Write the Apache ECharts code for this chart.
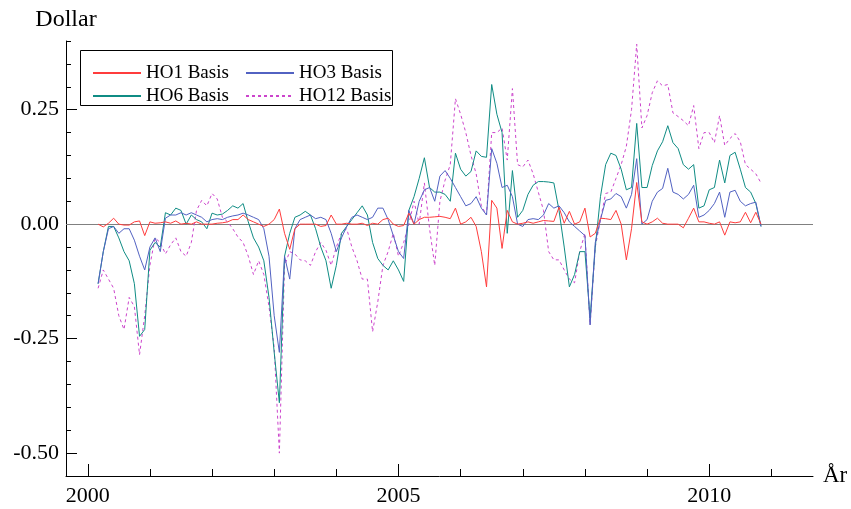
<!DOCTYPE html>
<html>
<head>
<meta charset="utf-8">
<script src="https://cdn.jsdelivr.net/npm/echarts@6/dist/echarts.min.js"></script>
<style>
  html, body { margin: 0; padding: 0; background: #fff; }
  #chart { width: 851px; height: 509px; }
</style>
</head>
<body>
<div id="chart"></div>
<script>
// monthly series, first point = March 2000
const startYear = 2000
const startMonth = 3

const ho1 = [
  0.000, -0.006, 0.002, 0.013, 0.000, -0.002, -0.002, 0.005, 0.007, -0.025,
  0.005, 0.002, 0.003, 0.005, 0.002, 0.007, 0.000, 0.002, 0.000, 0.005, 0.000, 0.000,
  0.000, 0.002, 0.003, 0.005, 0.010, 0.010, 0.020, 0.010, 0.005, 0.000, -0.005, 0.000,
  0.010, 0.033, -0.020, -0.055, -0.010, 0.000, 0.000, 0.000, 0.000, -0.005, -0.003, 0.020,
  0.000, 0.000, 0.002, 0.000, 0.000, 0.002, -0.003, 0.002, 0.000, 0.010, 0.013, 0.000,
  -0.005, -0.003, 0.024, 0.000, 0.010, 0.015, 0.015, 0.016, 0.017, 0.015, 0.012, 0.035,
  0.000, 0.005, 0.015, -0.005, -0.060, -0.137, 0.052, 0.035, -0.053, 0.030, 0.005, 0.000,
  0.002, 0.005, 0.002, 0.005, 0.008, 0.007, 0.006, 0.037, 0.002, 0.028, 0.000, 0.005,
  0.035, -0.028, -0.020, 0.013, 0.012, 0.010, 0.030, 0.000, -0.078, -0.010, 0.091, 0.005,
  0.000, 0.005, 0.013, 0.002, 0.000, 0.000, 0.000, -0.008, 0.013, 0.035, 0.005, 0.005,
  0.002, 0.000, 0.005, -0.024, 0.005, 0.003, 0.005, 0.026, 0.003, 0.026, 0.000
]

const ho3 = [
  -0.130, -0.060, -0.010, -0.005, -0.020, -0.010, -0.010, -0.035, -0.070, -0.100,
  -0.050, -0.030, -0.060, 0.013, 0.020, 0.020, 0.025, 0.020, 0.025, 0.020, 0.015, 0.005,
  0.010, 0.012, 0.010, 0.015, 0.018, 0.020, 0.024, 0.020, 0.015, 0.010, -0.010, -0.070,
  -0.200, -0.280, -0.070, -0.120, -0.010, 0.010, 0.015, 0.020, 0.012, 0.015, 0.010, -0.020,
  -0.060, -0.030, -0.005, 0.015, 0.020, 0.015, 0.010, 0.015, 0.035, 0.035, 0.010, -0.025,
  -0.060, -0.075, 0.030, 0.000, 0.050, 0.075, 0.080, 0.050, 0.105, 0.117, 0.100, 0.080,
  0.060, 0.040, 0.045, 0.060, 0.035, 0.020, 0.165, 0.133, 0.080, 0.085, 0.060, 0.000,
  -0.005, 0.010, 0.012, 0.010, 0.020, 0.045, 0.035, 0.040, 0.025, 0.005, -0.005, -0.015,
  -0.025, -0.220, -0.040, 0.010, 0.052, 0.055, 0.067, 0.060, 0.035, 0.065, 0.143, 0.000,
  0.010, 0.050, 0.070, 0.078, 0.122, 0.070, 0.065, 0.055, 0.065, 0.085, 0.015, 0.020,
  0.030, 0.045, 0.070, 0.015, 0.070, 0.074, 0.050, 0.040, 0.045, 0.048, -0.005
]

const ho6 = [
  -0.130, -0.060, -0.005, -0.005, -0.030, -0.060, -0.080, -0.130, -0.245, -0.230,
  -0.057, -0.040, -0.050, 0.025, 0.020, 0.035, 0.030, 0.000, 0.020, 0.010, 0.005, -0.010,
  0.024, 0.020, 0.022, 0.030, 0.040, 0.035, 0.045, 0.005, -0.030, -0.050, -0.080, -0.160,
  -0.280, -0.390, -0.070, -0.020, 0.015, 0.020, 0.028, 0.020, -0.010, -0.050, -0.080, -0.140,
  -0.090, -0.020, -0.005, 0.010, 0.025, 0.040, 0.020, -0.040, -0.075, -0.090, -0.100, -0.080,
  -0.100, -0.125, 0.030, 0.060, 0.100, 0.145, 0.080, 0.070, 0.070, 0.065, 0.050, 0.155,
  0.120, 0.105, 0.115, 0.160, 0.148, 0.146, 0.305, 0.240, 0.200, -0.020, 0.117, 0.015,
  0.030, 0.065, 0.085, 0.093, 0.093, 0.092, 0.090, 0.030, -0.050, -0.137, -0.110, -0.060,
  -0.060, -0.205, -0.050, 0.060, 0.130, 0.155, 0.150, 0.120, 0.075, 0.080, 0.220, 0.080,
  0.080, 0.128, 0.160, 0.180, 0.215, 0.178, 0.165, 0.130, 0.120, 0.130, 0.035, 0.040,
  0.075, 0.080, 0.140, 0.090, 0.150, 0.157, 0.120, 0.080, 0.070, 0.045, -0.005
]

const ho12 = [
  -0.140, -0.100, -0.120, -0.140, -0.200, -0.230, -0.160, -0.180, -0.285, -0.200,
  -0.090, -0.030, -0.040, -0.065, -0.045, -0.030, -0.060, -0.070, -0.040, 0.030, 0.052, 0.040,
  0.067, 0.055, 0.015, 0.005, -0.010, -0.028, -0.040, -0.070, -0.110, -0.080, -0.110, -0.180,
  -0.270, -0.500, -0.090, -0.060, -0.065, -0.078, -0.080, -0.090, -0.060, -0.040, -0.057, -0.090,
  -0.050, -0.020, -0.010, -0.050, -0.080, -0.120, -0.120, -0.235, -0.170, -0.090, -0.060, -0.020,
  -0.070, -0.040, 0.000, 0.050, 0.000, 0.090, -0.010, -0.090, 0.050, 0.096, 0.130, 0.274,
  0.240, 0.200, 0.150, 0.110, 0.040, 0.020, 0.200, 0.200, 0.210, 0.140, 0.296, 0.130,
  0.125, 0.140, 0.110, 0.070, 0.030, -0.060, -0.078, -0.078, -0.100, -0.120, -0.128, -0.060,
  -0.020, -0.220, -0.050, 0.010, 0.067, 0.070, 0.100, 0.130, 0.170, 0.250, 0.393, 0.210,
  0.237, 0.287, 0.313, 0.302, 0.305, 0.243, 0.235, 0.226, 0.215, 0.259, 0.165, 0.200,
  0.200, 0.178, 0.237, 0.172, 0.187, 0.198, 0.180, 0.130, 0.120, 0.110, 0.090
]

const seriesNames = ['HO1 Basis', 'HO3 Basis', 'HO6 Basis', 'HO12 Basis']
const yearTicks = [2000, 2001, 2002, 2003, 2004, 2005, 2006, 2007, 2008, 2009, 2010, 2011]
const yearLabels = [2000, 2005, 2010]
const yLabels = [-0.5, -0.25, 0, 0.25]
const yMinorTicks = [-0.55, -0.5, -0.45, -0.4, -0.35, -0.3, -0.25, -0.2, -0.15, -0.1, -0.05,
  0, 0.05, 0.1, 0.15, 0.2, 0.25, 0.3, 0.35, 0.4]

const font = 'Liberation Serif'

// month index -> decimal year
function toPairs (arr) {
  return arr.map((v, i) => [startYear + (startMonth - 1 + i) / 12, v])
}

function lineSeries (name, arr, color, type) {
  return {
    name: name,
    type: 'line',
    data: toPairs(arr),
    symbol: 'none',
    showSymbol: false,
    lineStyle: { color: color, width: 1, type: type || 'solid' },
    itemStyle: { color: color },
    z: 3
  }
}

let series = [
  lineSeries(seriesNames[3], ho12, '#cc44cc', [3, 3]),
  lineSeries(seriesNames[2], ho6, '#0f8c84'),
  lineSeries(seriesNames[1], ho3, '#5262c2'),
  lineSeries(seriesNames[0], ho1, '#ff3c3c')
]
series[0].markLine = {
  silent: true,
  symbol: 'none',
  label: { show: false },
  lineStyle: { color: '#808080', width: 1, type: 'solid' },
  data: [{ yAxis: 0 }],
  z: 1
}

const xMin = 1999.65
const xMax = 2011.67
const yMin = -0.55
const yMax = 0.40

const legendCommon = {
  orient: 'vertical',
  top: 58,
  itemWidth: 48,
  itemHeight: 10,
  itemGap: 3,
  itemStyle: { opacity: 0 },
  textStyle: { fontFamily: font, fontSize: 19, color: '#000', lineHeight: 20 },
  selectedMode: false
}

const option = {
  animation: false,
  backgroundColor: '#fff',
  grid: { left: 66, right: 38, top: 41, bottom: 33 },
  legend: [
    Object.assign({}, legendCommon, { left: 87, data: [seriesNames[0], seriesNames[2]] }),
    Object.assign({}, legendCommon, { left: 240, data: [seriesNames[1], seriesNames[3]] })
  ],
  graphic: [{
    type: 'rect',
    shape: { x: 80.5, y: 50.5, width: 312, height: 55 },
    style: { fill: '#fff', stroke: '#000', lineWidth: 1 },
    z: 0
  }],
  xAxis: [{
    type: 'value',
    min: xMin,
    max: xMax,
    name: 'År',
    nameLocation: 'end',
    nameGap: 10,
    nameTextStyle: { fontFamily: font, fontSize: 23, color: '#000' },
    axisLine: { onZero: false, lineStyle: { color: '#000', width: 1 } },
    axisTick: { inside: true, length: 7, customValues: yearTicks, lineStyle: { color: '#000' } },
    axisLabel: {
      customValues: yearLabels,
      fontFamily: font, fontSize: 22, color: '#000', margin: 9,
      formatter: v => String(Math.round(v))
    },
    splitLine: { show: false }
  }, {
    type: 'value',
    min: xMin,
    max: xMax,
    position: 'bottom',
    axisLine: { show: false, onZero: false },
    axisTick: { inside: true, length: 12, customValues: yearLabels, lineStyle: { color: '#000' } },
    axisLabel: { show: false },
    splitLine: { show: false }
  }],
  yAxis: [{
    type: 'value',
    min: yMin,
    max: yMax,
    name: 'Dollar',
    nameLocation: 'end',
    nameGap: 9,
    nameTextStyle: { fontFamily: font, fontSize: 24, color: '#000' },
    axisLine: { show: true, onZero: false, lineStyle: { color: '#000', width: 1 } },
    axisTick: { show: true, inside: true, length: 11, customValues: yLabels, lineStyle: { color: '#000' } },
    axisLabel: {
      customValues: yLabels,
      fontFamily: font, fontSize: 22, color: '#000', margin: 7,
      formatter: v => v.toFixed(2)
    },
    splitLine: { show: false }
  }, {
    type: 'value',
    min: yMin,
    max: yMax,
    position: 'left',
    axisLine: { show: false, onZero: false },
    axisTick: { show: true, inside: true, length: 5, customValues: yMinorTicks, lineStyle: { color: '#000' } },
    axisLabel: { show: false },
    splitLine: { show: false }
  }],
  series: series
}

const chart = echarts.init(document.getElementById('chart'))
chart.setOption(option)
</script>
</body>
</html>
